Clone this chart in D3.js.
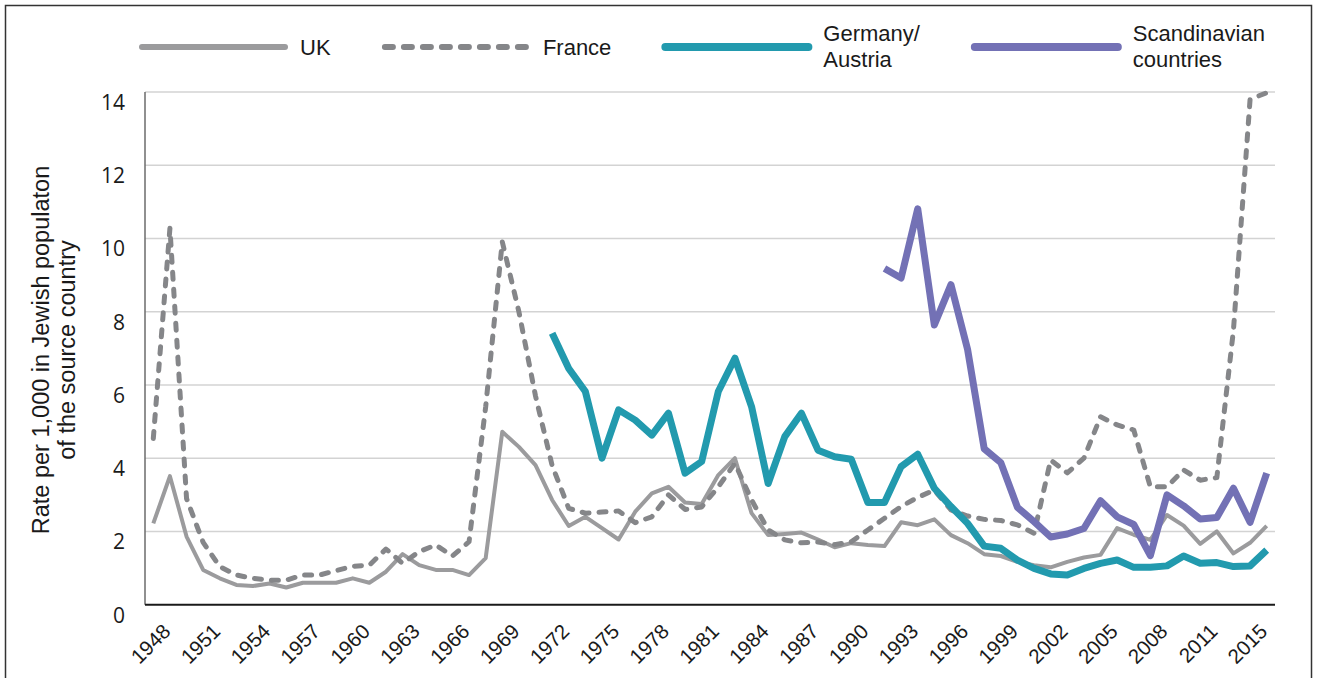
<!DOCTYPE html>
<html>
<head>
<meta charset="utf-8">
<script src="https://cdn.jsdelivr.net/npm/d3@7"></script>
<style>
  body { margin: 0; background: #fff; }
  text { font-family: "Liberation Sans", Arial, sans-serif; fill: #1a1a1a; }
</style>
</head>
<body>
<div id="vis"></div>
<script>
// yearly emigration rates per 1,000
const years = [1948, 1949, 1950, 1951, 1952, 1953, 1954, 1955, 1956, 1957, 1958, 1959,
  1960, 1961, 1962, 1963, 1964, 1965, 1966, 1967, 1968, 1969, 1970, 1971,
  1972, 1973, 1974, 1975, 1976, 1977, 1978, 1979, 1980, 1981, 1982, 1983,
  1984, 1985, 1986, 1987, 1988, 1989, 1990, 1991, 1992, 1993, 1994, 1995,
  1996, 1997, 1998, 1999, 2000, 2001, 2002, 2003, 2004, 2005, 2006, 2007,
  2008, 2009, 2010, 2011, 2012, 2013, 2014, 2015];

const uk = [2.22, 3.51, 1.86, 0.95, 0.72, 0.54, 0.51, 0.58, 0.47, 0.60, 0.60, 0.60,
  0.72, 0.60, 0.90, 1.38, 1.08, 0.95, 0.95, 0.81, 1.27, 4.72, 4.31, 3.81,
  2.86, 2.15, 2.40, 2.09, 1.78, 2.54, 3.04, 3.22, 2.79, 2.75, 3.54, 4.00,
  2.50, 1.90, 1.93, 1.97, 1.78, 1.57, 1.68, 1.63, 1.60, 2.25, 2.17, 2.33,
  1.90, 1.68, 1.38, 1.33, 1.17, 1.08, 1.02, 1.17, 1.29, 1.36, 2.09, 1.91,
  1.77, 2.45, 2.16, 1.66, 2.00, 1.40, 1.69, 2.15];

const france = [4.54, 10.28, 2.90, 1.70, 1.04, 0.81, 0.72, 0.67, 0.67, 0.81, 0.81, 0.93,
  1.05, 1.08, 1.52, 1.13, 1.45, 1.63, 1.33, 1.72, 5.40, 9.91, 8.00, 5.70,
  3.80, 2.63, 2.50, 2.53, 2.56, 2.24, 2.40, 3.00, 2.60, 2.67, 3.22, 3.86,
  2.86, 2.04, 1.77, 1.69, 1.71, 1.64, 1.72, 2.04, 2.36, 2.68, 2.93, 3.13,
  2.59, 2.42, 2.33, 2.30, 2.18, 1.95, 3.95, 3.60, 4.00, 5.13, 4.91, 4.77,
  3.22, 3.22, 3.68, 3.40, 3.47, 7.50, 13.80, 13.98];

const germanyYears = years.slice(years.indexOf(1972));
const germany = [7.41, 6.45, 5.82, 4.00, 5.32, 5.04, 4.63, 5.23, 3.59, 3.91, 5.82, 6.73,
  5.41, 3.31, 4.59, 5.23, 4.22, 4.04, 3.97, 2.79, 2.79, 3.77, 4.11, 3.18,
  2.68, 2.22, 1.60, 1.54, 1.22, 0.99, 0.84, 0.81, 0.99, 1.13, 1.22, 1.02,
  1.02, 1.06, 1.33, 1.13, 1.15, 1.04, 1.06, 1.49];

const scandYears = years.slice(years.indexOf(1992));
const scandinavia = [9.18, 8.92, 10.81, 7.64, 8.74, 6.97, 4.26, 3.88, 2.66, 2.27, 1.85, 1.93,
  2.08, 2.84, 2.40, 2.19, 1.34, 3.00, 2.70, 2.34, 2.38, 3.18, 2.25, 3.59];

const yTicks = [0, 2, 4, 6, 8, 10, 12, 14];
// one label on every third category, as in the source (the last one reads 2015)
const xTickLabels = ["1948", "1951", "1954", "1957", "1960", "1963", "1966", "1969",
  "1972", "1975", "1978", "1981", "1984", "1987", "1990", "1993", "1996", "1999",
  "2002", "2005", "2008", "2011", "2015"];

const seriesNames = [["UK"], ["France"], ["Germany/", "Austria"], ["Scandinavian", "countries"]];

function drawChart() {
  const W = 1320, H = 678;
  const plot = { left: 145, right: 1275, top: 92, bottom: 604.7 };

  const svg = d3.select("#vis").append("svg")
    .attr("width", W)
    .attr("height", H);

  // frame of the original figure
  svg.append("rect")
    .attr("x", 5.5).attr("y", 5.5)
    .attr("width", 1306).attr("height", 720)
    .attr("fill", "none")
    .attr("stroke", "#333")
    .attr("stroke-width", 1.5);

  const x = d3.scalePoint()
    .domain(years)
    .range([plot.left, plot.right])
    .padding(0.5);

  const y = d3.scaleLinear()
    .domain([0, 14])
    .range([plot.bottom, plot.top]);

  // gridlines
  svg.append("g")
    .selectAll("line")
    .data(yTicks.filter(d => d > 0))
    .join("line")
    .attr("x1", plot.left).attr("x2", plot.right)
    .attr("y1", d => y(d)).attr("y2", d => y(d))
    .attr("stroke", "#d3d3d3")
    .attr("stroke-width", 1.5);

  // y tick labels (sit a little below their gridline, as in the source)
  svg.append("g")
    .selectAll("text")
    .data(yTicks)
    .join("text")
    .attr("x", 125)
    .attr("y", d => y(d) + 18)
    .attr("text-anchor", "end")
    .style("font-family", "'Open Sans', 'Noto Sans', sans-serif")
    .style("font-size", "21px")
    .text(d => d);

  // left axis line
  svg.append("line")
    .attr("x1", plot.left).attr("x2", plot.left)
    .attr("y1", plot.top).attr("y2", plot.bottom)
    .attr("stroke", "#6b6b6b")
    .attr("stroke-width", 1.5);

  // bottom axis: ticks on every third category
  const tickYears = years.filter((d, i) => i % 3 === 0);
  const xAxis = d3.axisBottom(x)
    .tickValues(tickYears)
    .tickSize(0)
    .tickFormat((d, i) => xTickLabels[i]);

  const gx = svg.append("g")
    .attr("transform", `translate(0,${plot.bottom})`)
    .call(xAxis);
  gx.select(".domain")
    .attr("d", `M${plot.left},0H${plot.right}`)
    .attr("stroke", "#1a1a1a")
    .attr("stroke-width", 2);
  gx.selectAll(".tick text")
    .attr("y", 0).attr("dy", 0)
    .attr("transform", "translate(18,28) rotate(-45)")
    .attr("text-anchor", "end")
    .style("font-family", "'Liberation Sans', Arial, sans-serif")
    .style("font-size", "20.5px")
    .attr("fill", "#1a1a1a");

  // y axis title
  const yTitle = svg.append("text")
    .attr("transform", "translate(49,350) rotate(-90)")
    .attr("text-anchor", "middle")
    .style("font-size", "23.5px");
  yTitle.append("tspan").attr("x", 0).attr("dy", 0).text("Rate per 1,000 in Jewish populaton");
  yTitle.append("tspan").attr("x", 0).attr("dy", 26).text("of the source country");

  const series = [
    { name: seriesNames[0], years: years, values: uk, color: "#9b9b9d", width: 4, dash: null, legendWidth: 6, legendDash: null },
    { name: seriesNames[1], years: years, values: france, color: "#858689", width: 5, dash: "7,10", legendWidth: 6, legendDash: "8,11" },
    { name: seriesNames[2], years: germanyYears, values: germany, color: "#229aae", width: 7, dash: null, legendWidth: 8, legendDash: null },
    { name: seriesNames[3], years: scandYears, values: scandinavia, color: "#7371b5", width: 7, dash: null, legendWidth: 8, legendDash: null }
  ];

  const line = d3.line()
    .x(d => x(d.year))
    .y(d => y(d.value));

  svg.append("g")
    .selectAll("path")
    .data(series)
    .join("path")
    .attr("d", s => line(s.years.map((yr, i) => ({ year: yr, value: s.values[i] }))))
    .attr("fill", "none")
    .attr("stroke", s => s.color)
    .attr("stroke-width", s => s.width)
    .attr("stroke-dasharray", s => s.dash)
    .attr("stroke-linecap", s => s.dash ? "round" : "butt")
    .attr("stroke-linejoin", "round");

  // legend laid out left to right
  let lx = 142;
  const ly = 47;
  series.forEach(s => {
    const g = svg.append("g");
    g.append("line")
      .attr("x1", lx).attr("x2", lx + 143)
      .attr("y1", ly).attr("y2", ly)
      .attr("stroke", s.color)
      .attr("stroke-width", s.legendWidth)
      .attr("stroke-linecap", "round")
      .attr("stroke-dasharray", s.legendDash);
    const t = g.append("text")
      .attr("x", lx + 158)
      .attr("y", s.name.length > 1 ? ly - 6 : ly + 8)
      .style("font-size", "22px");
    s.name.forEach((n, i) => {
      t.append("tspan").attr("x", lx + 158).attr("dy", i === 0 ? 0 : 26).text(n);
    });
    const w = t.node().getBBox().width;
    lx = lx + 158 + w + 54;
  });
}

drawChart();
</script>
</body>
</html>
